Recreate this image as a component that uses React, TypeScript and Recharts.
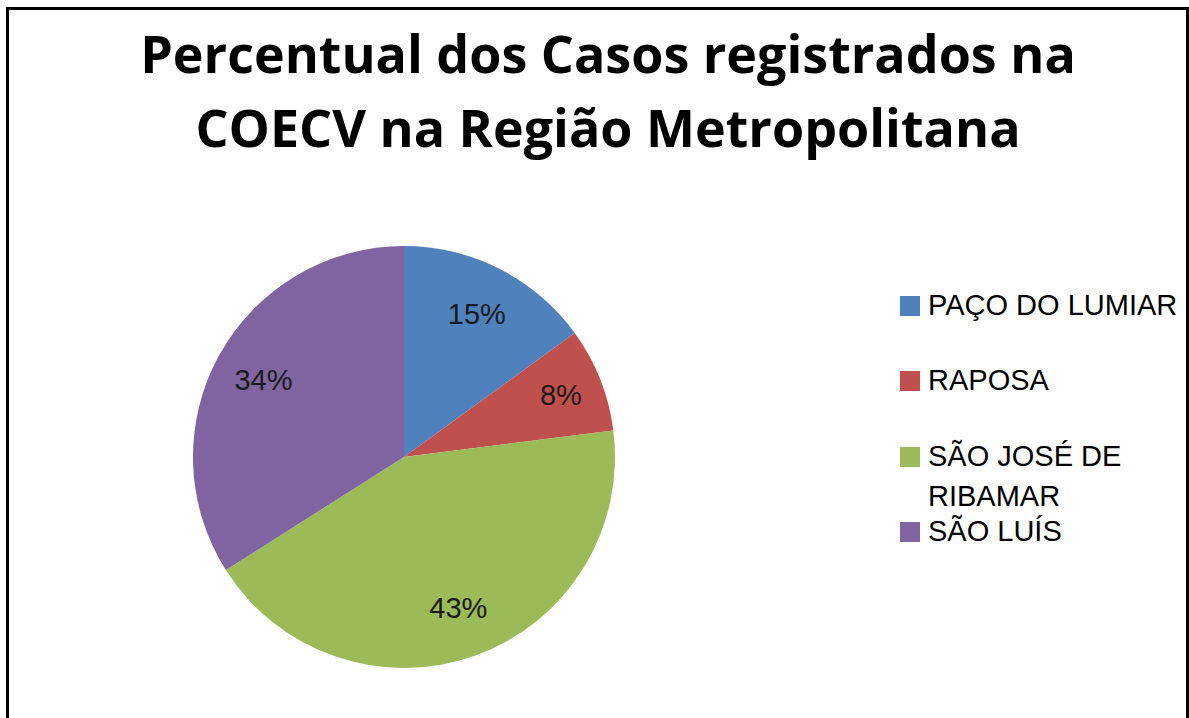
import React from "react";
import { PieChart, Pie, Cell, Legend } from "recharts";

const categories = ["PAÇO DO LUMIAR", "RAPOSA", "SÃO JOSÉ DE RIBAMAR", "SÃO LUÍS"];
const percentValues = [15, 8, 43, 34];
const sliceColors = ["#4F81BD", "#C0504D", "#9BBB59", "#8064A2"];
const titleLines = ["Percentual dos Casos registrados na", "COECV na Região Metropolitana"];

const data = categories.map((name, i) => ({ name, value: percentValues[i] }));

const FONT = "'Open Sans', 'Liberation Sans', sans-serif";
const BODY_FONT = "'Liberation Sans', Arial, sans-serif";
const RAD = Math.PI / 180;

const wrapWords = (text: string, maxChars: number): string[] => {
  const words = String(text).split(" ");
  const lines: string[] = [];
  let cur = "";
  words.forEach((w) => {
    const next = cur ? cur + " " + w : w;
    if (next.length > maxChars && cur) {
      lines.push(cur);
      cur = w;
    } else {
      cur = next;
    }
  });
  if (cur) lines.push(cur);
  return lines;
};

const renderLabel = (props: any) => {
  const { cx, cy, midAngle, outerRadius, value } = props;
  const r = outerRadius * (value < 10 ? 0.8 : 0.76);
  const x = cx + r * Math.cos(-midAngle * RAD);
  const y = cy + r * Math.sin(-midAngle * RAD);
  return (
    <text
      x={x}
      y={y}
      textAnchor="middle"
      dominantBaseline="central"
      fill="#1a1a1a"
      fontFamily={BODY_FONT}
      fontSize={29}
    >
      {`${value}%`}
    </text>
  );
};

const renderLegend = (props: any) => {
  const payload = props.payload || [];
  return (
    <div style={{ position: "relative", width: 0, height: 0 }}>
      {payload.map((entry: any, i: number) => (
        <div
          key={i}
          style={{
            position: "absolute",
            left: 900,
            top: 290.5 + i * 75.5,
            width: 300,
            fontFamily: BODY_FONT,
            fontSize: 29,
            lineHeight: "29px",
            color: "#000",
          }}
        >
          <div
            style={{
              position: "absolute",
              left: 0,
              top: 5,
              width: 20,
              height: 20,
              background: entry.color,
            }}
          />
          {wrapWords(entry.value, 14).map((line, j) => (
            <div
              key={j}
              style={{ position: "absolute", left: 28, top: j * 40, whiteSpace: "nowrap" }}
            >
              {line}
            </div>
          ))}
        </div>
      ))}
    </div>
  );
};

export default function App() {
  return (
    <div
      style={{
        position: "absolute",
        left: 0,
        top: 0,
        width: 1189,
        height: 718,
        overflow: "hidden",
        background: "#fff",
      }}
    >
      <div
        style={{
          position: "absolute",
          left: 6,
          top: 7,
          width: 1183,
          height: 800,
          border: "3px solid #000",
          boxSizing: "border-box",
        }}
      />
      <div
        style={{
          position: "absolute",
          left: 0,
          top: 16,
          width: 1216,
          textAlign: "center",
          fontFamily: FONT,
          fontWeight: 700,
          fontSize: 52,
          lineHeight: "74px",
          color: "#000",
          whiteSpace: "nowrap",
        }}
      >
        {titleLines.map((t, i) => (
          <div key={i}>{t}</div>
        ))}
      </div>
      <div style={{ position: "absolute", left: 0, top: 0 }}>
        <PieChart width={1189} height={718} margin={{ top: 0, right: 0, bottom: 0, left: 0 }}>
          <Pie
            data={data}
            dataKey="value"
            nameKey="name"
            cx={404}
            cy={457}
            outerRadius={211}
            startAngle={90}
            endAngle={-270}
            stroke="none"
            label={renderLabel}
            labelLine={false}
            isAnimationActive={false}
          >
            {data.map((d, i) => (
              <Cell key={d.name} fill={sliceColors[i]} />
            ))}
          </Pie>
          <Legend
            layout="vertical"
            align="right"
            verticalAlign="middle"
            content={renderLegend}
            wrapperStyle={{ position: "absolute", left: 0, top: 0, width: 0, height: 0 }}
          />
        </PieChart>
      </div>
    </div>
  );
}
